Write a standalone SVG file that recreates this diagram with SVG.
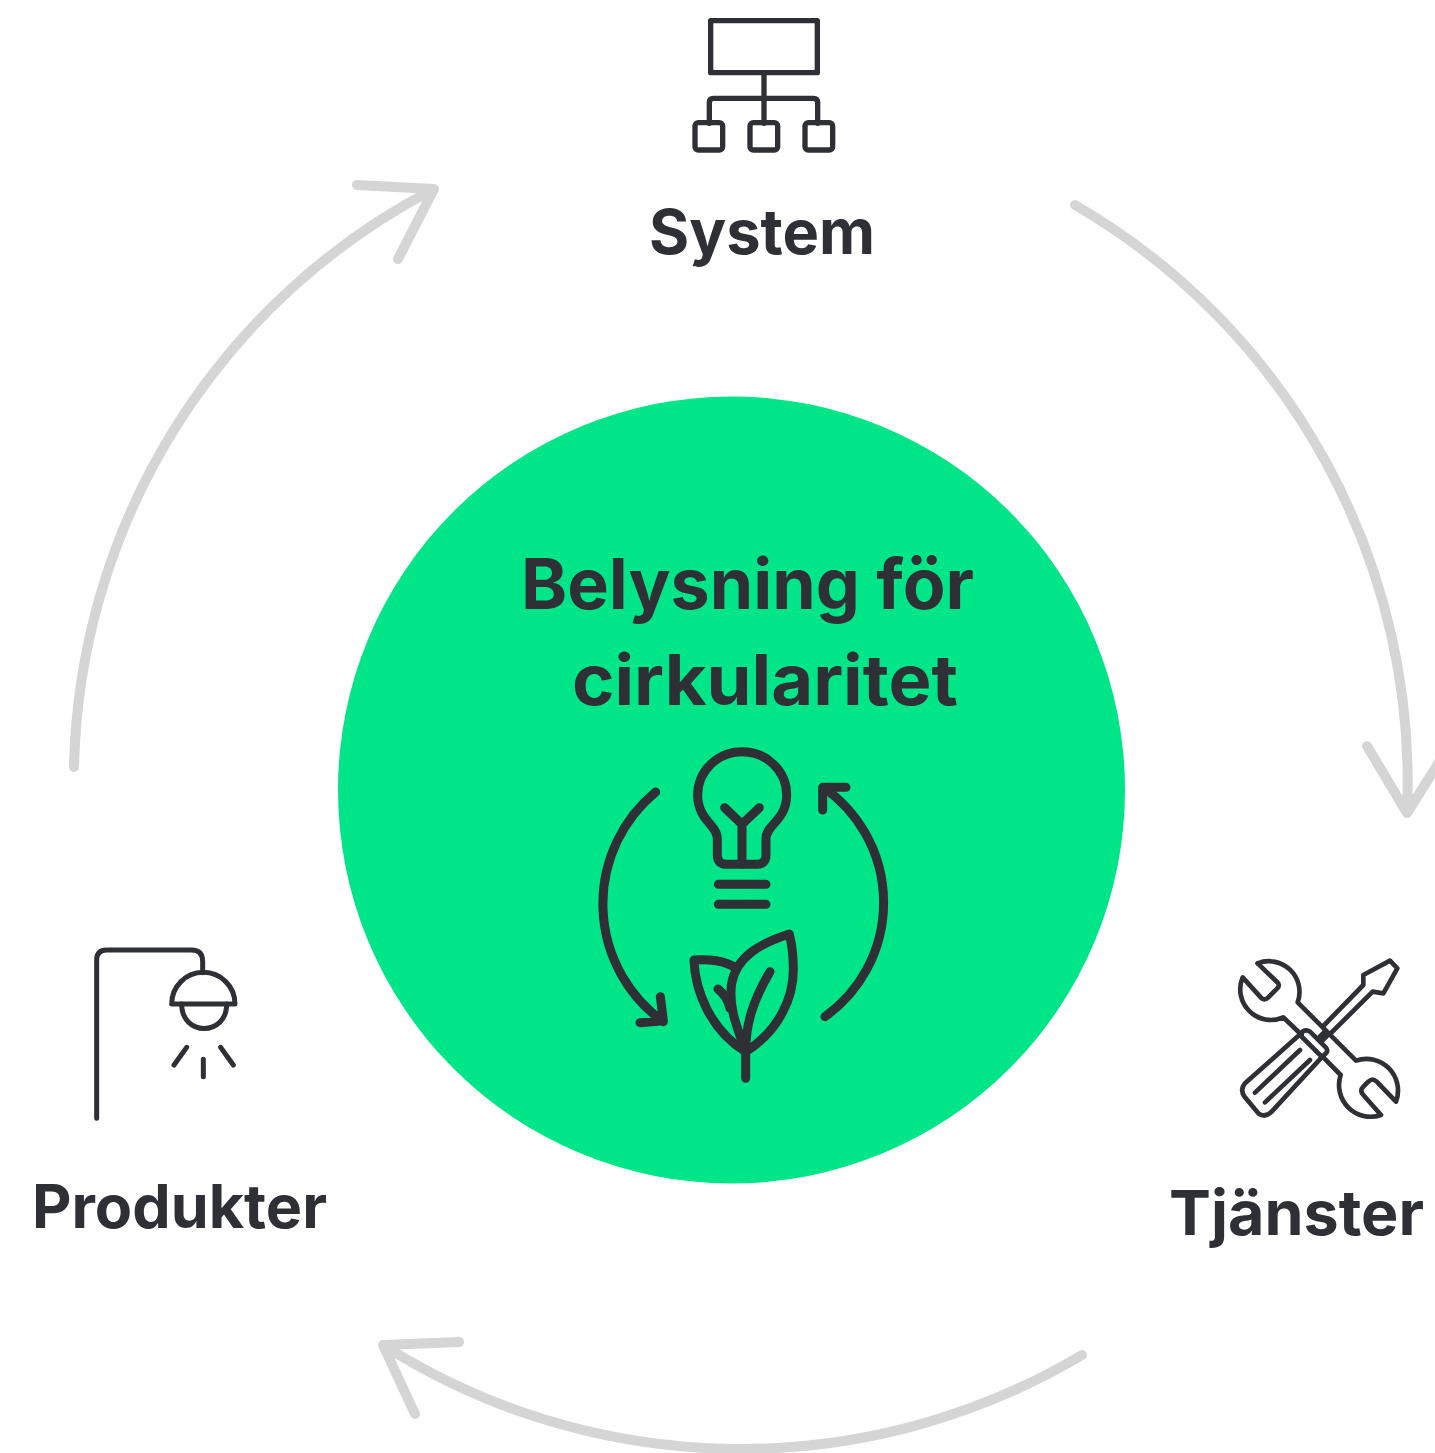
<svg xmlns="http://www.w3.org/2000/svg" width="1435" height="1453" viewBox="0 0 1435 1453">
<style>
.lbl{font-family:"Inter","Liberation Sans",sans-serif;font-weight:650;fill:#2f3036}
.ic{fill:none;stroke:#2f3036;stroke-linecap:round;stroke-linejoin:round}
.cn{fill:none;stroke:#d5d5d5;stroke-width:10;stroke-linecap:round;stroke-linejoin:round}
</style>
<rect width="1435" height="1453" fill="#fff"/>
<g id="connectors" class="cn">
<path d="M1075 205A667 667 0 0 1 1407 813M1367 746L1407 813L1450 745"/>
<path d="M1082 1355A667 667 0 0 1 383 1345M459 1342L383 1345L415 1414"/>
<path d="M74 767A667 667 0 0 1 434 189M357 185L434 189L398 259"/>
</g>
<g id="center">
<circle cx="731.5" cy="790" r="393.5" fill="#00e587"/>
<text class="lbl" x="521" y="609" font-size="70" textLength="453" lengthAdjust="spacingAndGlyphs">Belysning för</text>
<text class="lbl" x="572" y="705" font-size="70" textLength="386" lengthAdjust="spacingAndGlyphs">cirkularitet</text>
<g class="ic" transform="translate(580 730) scale(.33333)" stroke-width="27">
<path d="M412 325V375Q412 403 440 403H530Q558 403 558 375V325C558 285 620 270 620 195A133.5 130 0 0 0 353 195C353 270 412 285 412 325Z"/>
<path d="M434 233L486 283L538 233M486 283V403M415 463H558M415 523H558"/>
<path d="M227 186A435 435 0 0 0 250 875M241 800L250 872L180 878"/>
<path d="M735 860A421 421 0 0 0 730 172M728 240V172H798"/>
<path d="M497 965C600 900 640 800 640 720C640 680 635 640 628 612C540 640 470 680 455 760C445 830 470 890 497 965Z"/>
<path d="M470 715C430 690 390 688 342 690C345 780 390 900 497 965M570 725C520 810 497 880 497 965V1045M414 777C430 790 445 810 450 835"/>
</g>
</g>
<g id="system">
<g class="ic" transform="translate(680 10) scale(.33333)" stroke-width="16">
<rect x="92" y="32" width="320" height="156"/>
<path d="M252 188V340M88 340V278Q88 265 100 265H400Q413 265 413 278V340"/>
<rect x="45" y="338" width="83" height="82" rx="10"/>
<rect x="210" y="338" width="83" height="82" rx="10"/>
<rect x="375" y="338" width="83" height="82" rx="10"/>
</g>
<text class="lbl" x="649" y="254" font-size="62" textLength="226" lengthAdjust="spacingAndGlyphs">System</text>
</g>
<g id="tjanster">
<g class="ic" transform="translate(1220 940) scale(.33333)" stroke-width="14">
<path d="M113 70A92 92 0 0 1 233 187L408 362A95 95 0 0 1 528 485L470 425Q458 413 445 425L430 440Q418 452 430 465L483 525A95 95 0 0 1 362 405L310 352"/>
<path d="M245 285L190 232A92 92 0 0 1 68 112L125 175Q135 182 145 172L172 145Q182 135 170 125L113 70"/>
<path d="M75 430L238 285L250 273Q260 268 270 275L318 323Q325 332 318 340L305 352L155 515Q135 535 115 520L75 472Q58 450 75 430Z"/>
<path d="M105 458L240 330M135 487L270 360M240 285L305 350"/>
<path d="M310 258L430 135V105L510 62L532 85L490 160L458 155L330 282M297 292L312 277L322 287L307 302"/>
</g>
<text class="lbl" x="1169" y="1235" font-size="62" textLength="255" lengthAdjust="spacingAndGlyphs">Tjänster</text>
</g>
<g id="produkter">
<g class="ic" transform="translate(80 930) scale(.33333)" stroke-width="15">
<path d="M50 565V90Q50 60 80 60H335Q368 60 368 95V128"/>
<path d="M275 222A95 95 0 0 1 465 222Z"/>
<path d="M305 222C305 320 440 320 440 222"/>
<path d="M282 405L320 352M370 388V440M422 352L460 405"/>
</g>
<text class="lbl" x="32" y="1228" font-size="60" textLength="295" lengthAdjust="spacingAndGlyphs">Produkter</text>
</g>
</svg>
